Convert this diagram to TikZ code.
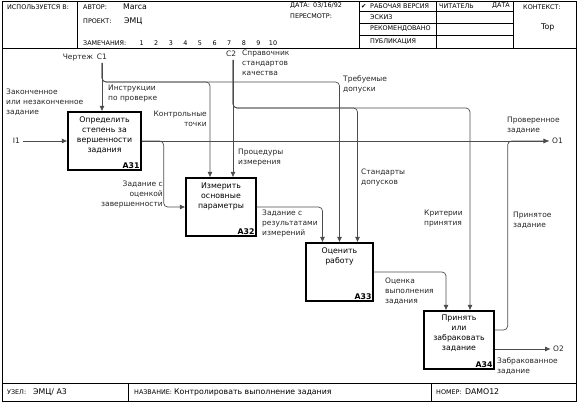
\documentclass[tikz,border=0pt]{standalone}
\usepackage{fontspec}
\setmainfont{DejaVu Sans}
\usetikzlibrary{arrows.meta, positioning, calc}
\tikzset{
    func/.style={
        rectangle,
        draw,
        line width=1.3pt,
        minimum width=70pt,
        minimum height=58pt,
        inner sep=0pt
    },
    functext/.style={
        anchor=north,
        align=center,
        font=\fontsize{7.8}{10.2}\selectfont,
        inner sep=0pt
    },
    funcid/.style={
        anchor=south east,
        font=\fontsize{7.8}{9}\selectfont\bfseries,
        inner sep=2pt
    },
    arrowtext/.style={
        align=left,
        font=\fontsize{7.5}{10}\selectfont,
        inner sep=0pt,
        text=black!85
    },
    connector/.style={
        -{Latex[length=5.5pt, width=5pt]},
        draw=black!70,
        line width=0.7pt,
        rounded corners=4pt
    },
    headtext/.style={
        anchor=west,
        font=\fontsize{6.4}{7}\selectfont,
        inner sep=0pt
    },
    headvalue/.style={
        anchor=west,
        font=\fontsize{7.8}{9}\selectfont,
        inner sep=0pt
    },
    border/.style={
        line width=0.8pt
    }
}

\begin{document}
\begin{tikzpicture}[x=1pt, y=-1pt]
\useasboundingbox (0,0) rectangle (578,411);

% form frame
\draw[border] (2,1) rectangle (576,401);
\draw[border] (2,48) -- (576,48);
\draw[border] (77,1) -- (77,48);
\draw[border] (359,1) -- (359,48);
\draw[border] (436,1) -- (436,48);
\draw[border] (513,1) -- (513,48);
\foreach \y in {11,23,35}
    \draw[border] (359,\y) -- (513,\y);
\draw[border] (2,383) -- (576,383);
\draw[border] (128,383) -- (128,401);
\draw[border] (431,383) -- (431,401);

% header
\node[headtext] at (7,7) {ИСПОЛЬЗУЕТСЯ В:};
\node[headtext] at (83,7) {АВТОР:};
\node[headvalue] at (123,7) {Marca};
\node[headtext] at (83,21) {ПРОЕКТ:};
\node[headvalue] at (124,21) {ЭМЦ};
\node[headtext] at (83,43) {ЗАМЕЧАНИЯ:};
\foreach \n in {1,...,10}
    \node[headtext, anchor=center] at ({127+14.6*\n},43) {\n};
\node[headtext] at (290,6) {ДАТА:\enspace 03/16/92};
\node[headtext] at (290,16) {ПЕРЕСМОТР:};
\node[headtext] at (361,6) {✔};
\node[headtext] at (370,6) {РАБОЧАЯ ВЕРСИЯ};
\node[headtext] at (370,17) {ЭСКИЗ};
\node[headtext] at (370,29) {РЕКОМЕНДОВАНО};
\node[headtext] at (370,42) {ПУБЛИКАЦИЯ};
\node[headtext] at (439,6) {ЧИТАТЕЛЬ};
\node[headtext, anchor=east] at (510,6) {ДАТА};
\node[headtext] at (523,7) {КОНТЕКСТ:};
\node[headvalue] at (541,27) {Top};

% footer
\node[headtext] at (7,392) {УЗЕЛ:};
\node[headvalue] at (33,392) {ЭМЦ/ А3};
\node[headtext] at (134,392) {НАЗВАНИЕ:};
\node[headvalue] at (174,392) {Контролировать выполнение задания};
\node[headtext] at (436,392) {НОМЕР:};
\node[headvalue] at (465,392) {DAMO12};

% functions
\node[func, minimum width=73pt] (A31) at (104.5,141) {};
\node[func] (A32) at (221,207) {};
\node[func, minimum width=67pt] (A33) at (339.5,272) {};
\node[func] (A34) at (459,340) {};
\node[functext] at ([yshift=-5pt]A31.north) {Определить\\степень за\\вершенности\\задания};
\node[functext] at ([yshift=-5pt]A32.north) {Измерить\\основные\\параметры};
\node[functext] at ([yshift=-5pt]A33.north) {Оценить\\работу};
\node[functext] at ([yshift=-4pt]A34.north) {Принять\\или\\забраковать\\задание};
\node[funcid] at (A31.south east) {A31};
\node[funcid] at (A32.south east) {A32};
\node[funcid] at (A33.south east) {A33};
\node[funcid] at (A34.south east) {A34};

% boundary points
\coordinate (i1) at (23,141);
\coordinate (c1) at (102,63);
\coordinate (c1turn) at (102,82);
\coordinate (c2) at (233,60);
\coordinate (c2turn) at (233,108);
\coordinate (o1) at (549,141);

% inputs and controls
\draw[connector] (i1) -- (A31.west);
\draw[connector] (c1) -- (c1 |- A31.north);
\draw[connector] (c1) -- (c1turn) -| ([xshift=-11pt]A32.north);
\draw[connector] (c1) -- (c1turn) -| (A33.north);
\draw[connector] (c2) -- (c2 |- A32.north);
\draw[connector] (c2) -- (c2turn) -| ([xshift=18pt]A33.north);
\draw[connector] (c2) -- (c2turn) -| ([xshift=11pt]A34.north);

% outputs
\draw[connector] (A31.east) -- (o1);
\draw[connector] (A31.east) -- ++(22,0) |- (A32.west);
\draw[connector] (A32.east) -| ([xshift=-17pt]A33.north);
\draw[connector] (A33.east) -| ([xshift=-13pt]A34.north);
\draw[connector] ([yshift=10pt]A34.east) -- ++(13,0) |- (o1);
\draw[connector] ([yshift=-9pt]A34.east) -- ++(56,0) coordinate (o2);

% arrow labels
\node[arrowtext, anchor=east] at (20,141) {I1};
\node[arrowtext, anchor=north east] at (107,54) {Чертеж\enspace C1};
\node[arrowtext, anchor=north west] at (226,51) {C2};
\node[arrowtext, anchor=west] at (552,141) {O1};
\node[arrowtext, anchor=west] at (553,349) {O2};
\node[arrowtext, anchor=north west] at (6,89) {Законченное\\или незаконченное\\задание};
\node[arrowtext, anchor=north west] at (108,85) {Инструкции\\по проверке};
\node[arrowtext, anchor=north east, align=right] at (207,111) {Контрольные\\точки};
\node[arrowtext, anchor=north west] at (242,50) {Справочник\\стандартов\\качества};
\node[arrowtext, anchor=north west] at (343,75) {Требуемые\\допуски};
\node[arrowtext, anchor=north west] at (238,149) {Процедуры\\измерения};
\node[arrowtext, anchor=north west] at (361,169) {Стандарты\\допусков};
\node[arrowtext, anchor=north east, align=right] at (163,181) {Задание с\\оценкой\\завершенности};
\node[arrowtext, anchor=north west] at (262,210) {Задание с\\результатами\\измерений};
\node[arrowtext, anchor=north west] at (507,117) {Проверенное\\задание};
\node[arrowtext, anchor=north west] at (424,210) {Критерии\\принятия};
\node[arrowtext, anchor=north west] at (513,212) {Принятое\\задание};
\node[arrowtext, anchor=north west] at (385,278) {Оценка\\выполнения\\задания};
\node[arrowtext, anchor=north west] at (497,357) {Забракованное\\задание};

\end{tikzpicture}
\end{document}
